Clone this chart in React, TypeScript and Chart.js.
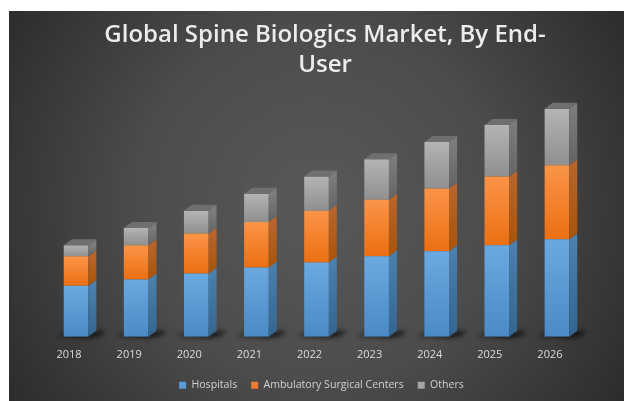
import React, { useEffect, useRef } from "react";
import { Chart, registerables } from "chart.js";

Chart.register(...registerables);

const categories = ["2018", "2019", "2020", "2021", "2022", "2023", "2024", "2025", "2026"];
const hospitals = [5.05, 5.65, 6.25, 6.85, 7.35, 7.95, 8.45, 9.05, 9.65];
const ambulatory = [2.9, 3.4, 3.95, 4.5, 5.1, 5.6, 6.2, 6.8, 7.3];
const others = [1.1, 1.7, 2.25, 2.8, 3.4, 4.0, 4.6, 5.1, 5.6];

const seriesNames = ["Hospitals", "Ambulatory Surgical Centers", "Others"];
const seriesValues = [hospitals, ambulatory, others];
const gradients = [
  ["#6aa9e0", "#4a8ac6"],
  ["#fa9448", "#ec6f12"],
  ["#b4b4b4", "#8f8f8f"],
];
const legendColors = ["#5b9bd5", "#ed7d31", "#a5a5a5"];
const sideColors = [
  ["#4a7fae", "#33658f"],
  ["#b8642a", "#a85408"],
  ["#7c7c7c", "#646464"],
];
const topColor = "#6f6f6f";
const depthX = 8;
const depthY = 6;

const backdrop = {
  id: "backdrop",
  beforeDraw(chart: any) {
    const { ctx, width, height } = chart;
    ctx.save();
    ctx.fillStyle = "#ffffff";
    ctx.fillRect(0, 0, width, height);
    const g = ctx.createRadialGradient(316, 205, 20, 316, 205, 370);
    g.addColorStop(0, "#575757");
    g.addColorStop(0.45, "#4c4c4c");
    g.addColorStop(1, "#2b2b2b");
    ctx.fillStyle = g;
    ctx.fillRect(9, 11, width - 9, height - 11);
    ctx.restore();
  },
};

const shiftBlocks = {
  id: "shiftBlocks",
  afterLayout(chart: any) {
    chart.titleBlock.left += 8.5;
    chart.titleBlock.right += 8.5;
    chart.legend.left += 5;
    chart.legend.right += 5;
  },
};

const solid3d = {
  id: "solid3d",
  beforeDatasetsDraw(chart: any) {
    const { ctx } = chart;
    const baseMeta = chart.getDatasetMeta(0).data;
    ctx.save();
    ctx.filter = "blur(2.5px)";
    ctx.fillStyle = "rgba(0,0,0,0.75)";
    baseMeta.forEach((bar: any) => {
      const l = bar.x - bar.width / 2;
      const r = bar.x + bar.width / 2;
      ctx.beginPath();
      ctx.moveTo(l - 8, bar.base - 1);
      ctx.lineTo(l, bar.base - 3);
      ctx.lineTo(r + depthX + 10, bar.base - depthY);
      ctx.lineTo(r + depthX + 4, bar.base - 1);
      ctx.lineTo(r, bar.base + 1);
      ctx.closePath();
      ctx.fill();
    });
    ctx.restore();
  },
  afterDatasetsDraw(chart: any) {
    const { ctx } = chart;
    const last = chart.data.datasets.length - 1;
    ctx.save();
    chart.data.datasets.forEach((_: any, d: number) => {
      chart.getDatasetMeta(d).data.forEach((bar: any) => {
        const r = bar.x + bar.width / 2;
        const l = bar.x - bar.width / 2;
        const g = ctx.createLinearGradient(0, bar.y, 0, bar.base);
        g.addColorStop(0, sideColors[d][0]);
        g.addColorStop(1, sideColors[d][1]);
        ctx.fillStyle = g;
        ctx.beginPath();
        ctx.moveTo(r, bar.y);
        ctx.lineTo(r + depthX, bar.y - depthY);
        ctx.lineTo(r + depthX, bar.base - depthY);
        ctx.lineTo(r, bar.base);
        ctx.closePath();
        ctx.fill();
        if (d === last) {
          ctx.fillStyle = topColor;
          ctx.beginPath();
          ctx.moveTo(l, bar.y);
          ctx.lineTo(l + depthX, bar.y - depthY);
          ctx.lineTo(r + depthX, bar.y - depthY);
          ctx.lineTo(r, bar.y);
          ctx.closePath();
          ctx.fill();
        }
      });
    });
    ctx.restore();
  },
};

export default function App() {
  const ref = useRef<HTMLCanvasElement>(null);
  useEffect(() => {
    if (!ref.current) return;
    const faceFill = (d: number) => (c: any) => {
      const y = c.chart.scales.y;
      const i = c.dataIndex;
      if (!y || i === undefined) return legendColors[d];
      let start = 0;
      for (let k = 0; k < d; k++) start += seriesValues[k][i];
      const g = c.chart.ctx.createLinearGradient(
        0,
        y.getPixelForValue(start + seriesValues[d][i]),
        0,
        y.getPixelForValue(start)
      );
      g.addColorStop(0, gradients[d][0]);
      g.addColorStop(1, gradients[d][1]);
      return g;
    };
    const chart = new Chart(ref.current, {
      type: "bar",
      data: {
        labels: categories,
        datasets: seriesValues.map((data, d) => ({
          label: seriesNames[d],
          data,
          backgroundColor: faceFill(d),
          borderWidth: 0,
          barPercentage: 1,
          categoryPercentage: 0.41,
        })),
      },
      options: {
        responsive: false,
        animation: false,
        layout: { padding: { left: 46, right: 37, top: 20, bottom: 0.5 } },
        plugins: {
          title: {
            display: true,
            text: ["Global Spine Biologics Market, By End-", "User"],
            color: "#ececec",
            font: { family: "'Open Sans'", size: 24, weight: "600", lineHeight: 1.25 },
            padding: { top: 0, bottom: 4 },
          },
          legend: {
            position: "bottom",
            labels: {
              boxWidth: 7,
              boxHeight: 7,
              padding: 14,
              color: "#d0d0d0",
              font: { family: "'Open Sans'", size: 10.6 },
              generateLabels: () =>
                seriesNames.map((text, i) => ({
                  text,
                  fillStyle: legendColors[i],
                  strokeStyle: legendColors[i],
                  lineWidth: 0,
                  fontColor: "#d0d0d0",
                  datasetIndex: i,
                })),
            },
          },
          tooltip: { enabled: false },
        },
        scales: {
          x: {
            stacked: true,
            grid: { display: false },
            border: { display: false },
            ticks: {
              color: "#dcdcdc",
              font: { family: "'Open Sans'", size: 11 },
              labelOffset: -7,
              padding: 4,
              maxRotation: 0,
            },
          },
          y: { stacked: true, display: false, min: 0, max: 25 },
        },
      },
      plugins: [backdrop, shiftBlocks, solid3d],
    } as any);
    return () => chart.destroy();
  }, []);
  return (
    <canvas
      ref={ref}
      width={624}
      height={401}
      style={{ position: "fixed", left: 0, top: 0, width: 624, height: 401, display: "block" }}
    />
  );
}
